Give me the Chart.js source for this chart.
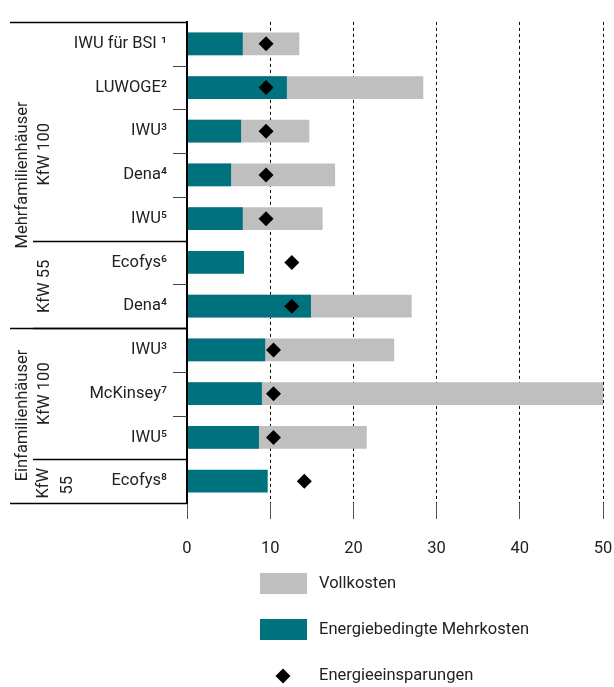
<!DOCTYPE html>
<html>
<head>
<meta charset="utf-8">
<script src="https://cdn.jsdelivr.net/npm/chart.js@4/dist/chart.umd.min.js"></script>
<style>
  html, body { margin: 0; padding: 0; background: #fff; }
  #wrap { width: 614px; height: 687px; position: relative; }
</style>
</head>
<body>
<div id="wrap"><canvas id="kostenChart"></canvas></div>
<script>
// Studien (Reihenfolge von oben nach unten)
const studien = ['IWU für BSI ¹', 'LUWOGE²', 'IWU³', 'Dena⁴', 'IWU⁵', 'Ecofys⁶', 'Dena⁴', 'IWU³', 'McKinsey⁷', 'IWU⁵', 'Ecofys⁸'];
const vollkosten = [13.5, 28.4, 14.7, 17.8, 16.3, null, 27.0, 24.9, 50.0, 21.6, null];
const mehrkosten = [6.7, 12.0, 6.5, 5.3, 6.7, 6.85, 14.9, 9.4, 9.0, 8.65, 9.7];
const einsparungen = [9.5, 9.5, 9.5, 9.5, 9.5, 12.6, 12.6, 10.4, 10.4, 10.4, 14.1];
const xTicks = [0, 10, 20, 30, 40, 50];

// Gruppierung links (Indizes in studien)
const gebaeude = [
  { name: 'Mehrfamilienhäuser', von: 0, bis: 6 },
  { name: 'Einfamilienhäuser', von: 7, bis: 10 }
];
const standards = [
  { name: ['KfW 100'], von: 0, bis: 4 },
  { name: ['KfW 55'], von: 5, bis: 6 },
  { name: ['KfW 100'], von: 7, bis: 9 },
  { name: ['KfW', '55'], von: 10, bis: 10 }
];

const FONT = 'Roboto, "Noto Sans", sans-serif';
const FSIZE = 16.5;
const TEXT = '#222';
const TEAL = '#00727d';
const GRAU = '#bfbfbf';

// === linke Tabelle mit Gruppen ===
const gruppenPlugin = {
  id: 'gruppen',
  afterDraw(chart) {
    const ctx = chart.ctx;
    const y = chart.scales.y;
    const area = chart.chartArea;
    const grenze = i => {
      if (i <= 0) return area.top;
      if (i >= studien.length) return area.bottom;
      return (y.getPixelForValue(i - 1) + y.getPixelForValue(i)) / 2;
    };
    const linie = (x1, yy, x2, farbe, breite) => {
      ctx.beginPath();
      ctx.strokeStyle = farbe;
      ctx.lineWidth = breite;
      ctx.moveTo(x1, yy);
      ctx.lineTo(x2, yy);
      ctx.stroke();
    };
    const senkrecht = (text, x, yy) => {
      ctx.save();
      ctx.translate(x, yy);
      ctx.rotate(-Math.PI / 2);
      ctx.fillText(text, 0, 0);
      ctx.restore();
    };

    ctx.save();
    // kurze Striche zwischen den Studien
    for (let i = 1; i < studien.length; i++) {
      linie(173, Math.round(grenze(i)) + 0.5, area.left, '#444', 1);
    }
    // Trennlinien der Standards
    standards.forEach(s => {
      if (s.von > 0) linie(33, Math.round(grenze(s.von)) + 0.5, area.left, '#000', 1.5);
    });
    // Trennlinien der Gebäudetypen
    gebaeude.forEach(g => linie(10, Math.round(grenze(g.von)) + 0.5, area.left, '#000', 1.5));
    linie(10, Math.round(area.bottom) + 0.5, area.left, '#000', 1.5);

    ctx.fillStyle = TEXT;
    ctx.font = FSIZE + 'px ' + FONT;
    ctx.textAlign = 'center';
    ctx.textBaseline = 'middle';
    gebaeude.forEach(g => {
      senkrecht(g.name, 23, (grenze(g.von) + grenze(g.bis + 1)) / 2);
    });
    const versatz = [23, 2, 0, 2];
    standards.forEach((s, k) => {
      const mitte = (grenze(s.von) + grenze(s.bis + 1)) / 2 + versatz[k];
      if (s.name.length === 1) {
        senkrecht(s.name[0], 45, mitte);
      } else {
        senkrecht(s.name[0], 44, mitte);
        senkrecht(s.name[1], 68, mitte + 2);
      }
    });
    ctx.restore();
  }
};

// === Legende unten ===
const legendePlugin = {
  id: 'legende',
  afterDraw(chart) {
    const ctx = chart.ctx;
    const ds = chart.data.datasets;
    ctx.save();
    ctx.font = FSIZE + 'px ' + FONT;
    ctx.textBaseline = 'middle';
    ctx.textAlign = 'left';
    const eintraege = [ds[2], ds[1], ds[0]];
    const zeilen = [584, 630, 676];
    eintraege.forEach((d, k) => {
      const yy = zeilen[k];
      ctx.fillStyle = d.backgroundColor;
      if (d.type === 'line') {
        ctx.beginPath();
        ctx.moveTo(283 - 7.5, yy);
        ctx.lineTo(283, yy - 7.5);
        ctx.lineTo(283 + 7.5, yy);
        ctx.lineTo(283, yy + 7.5);
        ctx.closePath();
        ctx.fill();
      } else {
        ctx.fillRect(260, yy - 11, 47, 21);
      }
      ctx.fillStyle = TEXT;
      ctx.fillText(d.label, 319, yy);
    });
    ctx.restore();
  }
};

new Chart(document.getElementById('kostenChart'), {
  data: {
    labels: studien,
    datasets: [
      {
        type: 'line',
        label: 'Energieeinsparungen',
        data: einsparungen,
        showLine: false,
        pointStyle: 'rectRot',
        pointRadius: 7.5,
        pointBorderWidth: 0,
        backgroundColor: '#000',
        borderColor: '#000'
      },
      {
        type: 'bar',
        label: 'Energiebedingte Mehrkosten',
        data: mehrkosten,
        backgroundColor: TEAL
      },
      {
        type: 'bar',
        label: 'Vollkosten',
        data: vollkosten,
        backgroundColor: GRAU
      }
    ]
  },
  options: {
    indexAxis: 'y',
    responsive: true,
    maintainAspectRatio: false,
    animation: false,
    layout: { padding: { top: 12, right: 11, bottom: 124, left: 0 } },
    datasets: {
      bar: { grouped: false, categoryPercentage: 1, barPercentage: 0.52 }
    },
    scales: {
      x: {
        min: 0,
        max: 50,
        afterFit: s => { s.height = 60; s.paddingRight = 10; s.paddingLeft = 0; },
        afterBuildTicks: s => { s.ticks = xTicks.map(v => ({ value: v })); },
        border: { display: false, dash: [3, 3] },
        grid: {
          color: '#000',
          lineWidth: 1,
          drawTicks: true,
          tickLength: 16,
          tickColor: '#555',
          tickBorderDash: [],
          tickWidth: 1
        },
        ticks: {
          padding: 20,
          color: TEXT,
          font: { family: FONT, size: FSIZE },
          maxRotation: 0
        }
      },
      y: {
        afterFit: s => { s.width = 187; },
        grid: { display: false },
        border: { display: true, color: '#000', width: 2, z: 1 },
        ticks: {
          padding: 12,
          color: TEXT,
          font: { family: FONT, size: FSIZE }
        }
      }
    },
    plugins: {
      legend: { display: false },
      tooltip: { enabled: false }
    }
  },
  plugins: [gruppenPlugin, legendePlugin]
});
</script>
</body>
</html>
